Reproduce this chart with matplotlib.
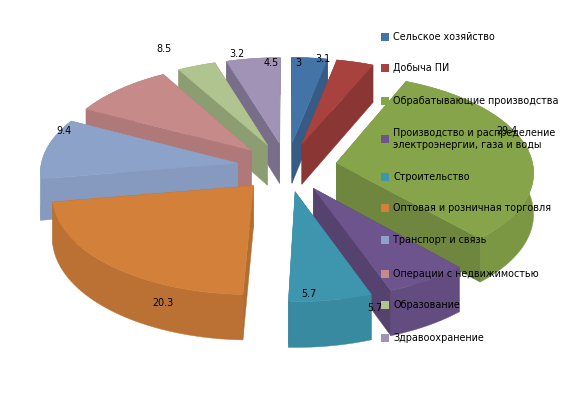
import numpy as np
import matplotlib
matplotlib.use("Agg")
import matplotlib.pyplot as plt
from matplotlib.colors import to_rgb

categories = ["Сельское хозяйство", "Добыча ПИ", "Обрабатывающие производства",
              "Производство и распределение\nэлектроэнергии, газа и воды", "Строительство",
              "Оптовая и розничная торговля", "Транспорт и связь",
              "Операции с недвижимостью", "Образование", "Здравоохранение"]
values = [3, 3.1, 29.4, 5.7, 5.7, 20.3, 9.4, 8.5, 3.2, 4.5]
colors = ["#4473A8", "#A8423F", "#86A44A", "#6E548D", "#3D96AE",
          "#D3803A", "#8CA2C8", "#C68A88", "#AFC48E", "#A193B6"]
value_labels = ["3", "3.1", "29.4", "5.7", "5.7", "20.3", "9.4", "8.5", "3.2", "4.5"]

label_xy = [(298, 63), (323, 59), (507, 131), (375, 308), (309, 294),
            (163, 303), (64, 131), (164, 49), (237, 54), (271, 63)]
legend_y = [37, 68, 101, 139, 177, 208, 240, 274, 305, 338]
cut_shade = [0.8, 0.82, 0.82, 0.78, 0.85, 0.85, 0.95, 0.88, 0.8, 0.75]
wall_shade = [0.9, 0.9, 0.92, 0.9, 0.92, 0.88, 0.95, 0.9, 0.9, 0.9]

CX, CY, RX, RY, K, EXPL, DEPTH = 287, 167, 197, 96.5, 0.083, 0.254, 41


def project(u, v, drop=0.0):
    p = 1 / (1 - K * v)
    return CX + RX * u * p, CY + RY * v * p + drop * DEPTH * p


fig = plt.figure(figsize=(5.76, 3.93), dpi=100)
ax = fig.add_axes([0, 0, 1, 1])
ax.set_xlim(0, 576)
ax.set_ylim(393, 0)
ax.axis("off")


def shade(c, f):
    return tuple(x * f for x in to_rgb(c))


total = sum(values)
edges = np.cumsum([0] + values) / total * 2 * np.pi
slices = []
for i, val in enumerate(values):
    t0, t1 = edges[i], edges[i + 1]
    mid = (t0 + t1) / 2
    ou, ov = EXPL * np.sin(mid), -EXPL * np.cos(mid)
    th = np.linspace(t0, t1, max(int((t1 - t0) * 40), 6))
    us = np.r_[ou, ou + np.sin(th)]
    vs = np.r_[ov, ov - np.cos(th)]
    slices.append((ov, i, us, vs))

for z, (ov, i, us, vs) in enumerate(sorted(slices, key=lambda s: s[0])):
    col = colors[i]
    x, y = project(us, vs)
    xb, yb = project(us, vs, 1.0)
    n = len(x)
    cut_c = shade(col, cut_shade[i])
    wall_c = shade(col, wall_shade[i])
    # the two radial cut faces
    cuts = []
    for a, b in ((0, 1), (n - 1, 0)):
        quad = [(x[a], y[a]), (x[b], y[b]), (xb[b], yb[b]), (xb[a], yb[a])]
        cuts.append((x[b] < x[a], quad))
    for front, quad in cuts:
        if not front:
            ax.fill(*zip(*quad), facecolor=cut_c, edgecolor=cut_c, lw=0.3, zorder=z * 4 + 1)
    # the outer wall as one polygon
    wx = np.r_[x[1:], xb[1:][::-1]]
    wy = np.r_[y[1:], yb[1:][::-1]]
    ax.fill(wx, wy, facecolor=wall_c, edgecolor=wall_c, lw=0.3, zorder=z * 4 + 2)
    for front, quad in cuts:
        if front:
            ax.fill(*zip(*quad), facecolor=cut_c, edgecolor=cut_c, lw=0.3, zorder=z * 4 + 3)
    ax.fill(x, y, facecolor=col, edgecolor=shade(col, 1.0), lw=0.3, zorder=z * 4 + 4)

for (lx, ly), s in zip(label_xy, value_labels):
    ax.text(lx, ly, s, fontsize=6.9, ha="center", va="center", color="black", zorder=100)

for name, ly, c in zip(categories, legend_y, colors):
    ax.add_patch(plt.Rectangle((381, ly - 4), 8, 8, facecolor=c, edgecolor="none", zorder=100))
    ax.text(393, ly, name, fontsize=6.9, ha="left", va="center", color="black",
            linespacing=1.15, zorder=101)

fig.savefig("out.png", dpi=100)
